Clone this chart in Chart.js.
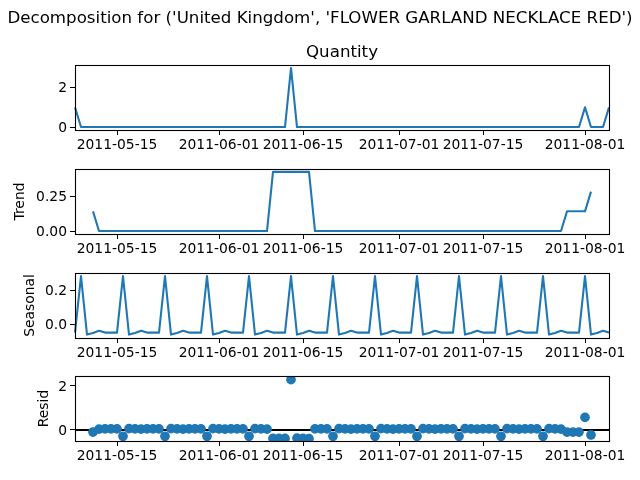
<!DOCTYPE html>
<html>
<head>
<meta charset="utf-8">
<script src="https://cdn.jsdelivr.net/npm/chart.js@4"></script>
<style>
    html, body { margin: 0; padding: 0; background: #fff; }
    canvas { position: absolute; left: 0; }
</style>
</head>
<body>
<canvas id="observed"></canvas>
<canvas id="trend"></canvas>
<canvas id="seasonal"></canvas>
<canvas id="resid"></canvas>
<script>
const dates = [
    "2011-05-08", "2011-05-09", "2011-05-10", "2011-05-11", "2011-05-12", "2011-05-13", "2011-05-14",
    "2011-05-15", "2011-05-16", "2011-05-17", "2011-05-18", "2011-05-19", "2011-05-20", "2011-05-21",
    "2011-05-22", "2011-05-23", "2011-05-24", "2011-05-25", "2011-05-26", "2011-05-27", "2011-05-28",
    "2011-05-29", "2011-05-30", "2011-05-31", "2011-06-01", "2011-06-02", "2011-06-03", "2011-06-04",
    "2011-06-05", "2011-06-06", "2011-06-07", "2011-06-08", "2011-06-09", "2011-06-10", "2011-06-11",
    "2011-06-12", "2011-06-13", "2011-06-14", "2011-06-15", "2011-06-16", "2011-06-17", "2011-06-18",
    "2011-06-19", "2011-06-20", "2011-06-21", "2011-06-22", "2011-06-23", "2011-06-24", "2011-06-25",
    "2011-06-26", "2011-06-27", "2011-06-28", "2011-06-29", "2011-06-30", "2011-07-01", "2011-07-02",
    "2011-07-03", "2011-07-04", "2011-07-05", "2011-07-06", "2011-07-07", "2011-07-08", "2011-07-09",
    "2011-07-10", "2011-07-11", "2011-07-12", "2011-07-13", "2011-07-14", "2011-07-15", "2011-07-16",
    "2011-07-17", "2011-07-18", "2011-07-19", "2011-07-20", "2011-07-21", "2011-07-22", "2011-07-23",
    "2011-07-24", "2011-07-25", "2011-07-26", "2011-07-27", "2011-07-28", "2011-07-29", "2011-07-30",
    "2011-07-31", "2011-08-01", "2011-08-02", "2011-08-03", "2011-08-04", "2011-08-05"
];

const dateTicks = ["2011-05-15", "2011-06-01", "2011-06-15", "2011-07-01", "2011-07-15", "2011-08-01"];

const quantity = [
    1, 0, 0, 0, 0, 0, 0,
    0, 0, 0, 0, 0, 0, 0,
    0, 0, 0, 0, 0, 0, 0,
    0, 0, 0, 0, 0, 0, 0,
    0, 0, 0, 0, 0, 0, 0,
    0, 3, 0, 0, 0, 0, 0,
    0, 0, 0, 0, 0, 0, 0,
    0, 0, 0, 0, 0, 0, 0,
    0, 0, 0, 0, 0, 0, 0,
    0, 0, 0, 0, 0, 0, 0,
    0, 0, 0, 0, 0, 0, 0,
    0, 0, 0, 0, 0, 0, 0,
    0, 1, 0, 0, 0, 1
];

const trend = [
    null, null, null, 0.143, 0, 0, 0,
    0, 0, 0, 0, 0, 0, 0,
    0, 0, 0, 0, 0, 0, 0,
    0, 0, 0, 0, 0, 0, 0,
    0, 0, 0, 0, 0, 0.429, 0.429,
    0.429, 0.429, 0.429, 0.429, 0.429, 0, 0,
    0, 0, 0, 0, 0, 0, 0,
    0, 0, 0, 0, 0, 0, 0,
    0, 0, 0, 0, 0, 0, 0,
    0, 0, 0, 0, 0, 0, 0,
    0, 0, 0, 0, 0, 0, 0,
    0, 0, 0, 0, 0, 0.143, 0.143,
    0.143, 0.143, 0.286, null, null, null
];

const seasonal = [
    -0.048, 0.287, -0.06, -0.05, -0.037, -0.048, -0.048,
    -0.048, 0.287, -0.06, -0.05, -0.037, -0.048, -0.048,
    -0.048, 0.287, -0.06, -0.05, -0.037, -0.048, -0.048,
    -0.048, 0.287, -0.06, -0.05, -0.037, -0.048, -0.048,
    -0.048, 0.287, -0.06, -0.05, -0.037, -0.048, -0.048,
    -0.048, 0.287, -0.06, -0.05, -0.037, -0.048, -0.048,
    -0.048, 0.287, -0.06, -0.05, -0.037, -0.048, -0.048,
    -0.048, 0.287, -0.06, -0.05, -0.037, -0.048, -0.048,
    -0.048, 0.287, -0.06, -0.05, -0.037, -0.048, -0.048,
    -0.048, 0.287, -0.06, -0.05, -0.037, -0.048, -0.048,
    -0.048, 0.287, -0.06, -0.05, -0.037, -0.048, -0.048,
    -0.048, 0.287, -0.06, -0.05, -0.037, -0.048, -0.048,
    -0.048, 0.287, -0.06, -0.05, -0.037, -0.048
];

const resid = [
    null, null, null, -0.093, 0.037, 0.048, 0.048,
    0.048, -0.287, 0.06, 0.05, 0.037, 0.048, 0.048,
    0.048, -0.287, 0.06, 0.05, 0.037, 0.048, 0.048,
    0.048, -0.287, 0.06, 0.05, 0.037, 0.048, 0.048,
    0.048, -0.287, 0.06, 0.05, 0.037, -0.381, -0.381,
    -0.381, 2.284, -0.369, -0.379, -0.392, 0.048, 0.048,
    0.048, -0.287, 0.06, 0.05, 0.037, 0.048, 0.048,
    0.048, -0.287, 0.06, 0.05, 0.037, 0.048, 0.048,
    0.048, -0.287, 0.06, 0.05, 0.037, 0.048, 0.048,
    0.048, -0.287, 0.06, 0.05, 0.037, 0.048, 0.048,
    0.048, -0.287, 0.06, 0.05, 0.037, 0.048, 0.048,
    0.048, -0.287, 0.06, 0.05, 0.037, -0.095, -0.095,
    -0.095, 0.57, -0.226, null, null, null
];

const zeroLine = [{ x: "2011-05-08", y: 0 }, { x: "2011-08-05", y: 0 }];

const quantityTicks = [0, 2];
const trendTicks = [0, 0.25];
const seasonalTicks = [0, 0.2];
const residTicks = [0, 2];

const BLUE = "#1f77b4";
const FONT = { family: "'DejaVu Sans'", size: 13.89 };
const TITLE_FONT = { family: "'DejaVu Sans'", size: 16.67, weight: "normal" };

Chart.defaults.color = "#000";
Chart.defaults.devicePixelRatio = 1;

// black box round each panel, like the four spines
const frame = {
    id: "frame",
    afterDatasetsDraw(chart) {
        let a = chart.chartArea;
        let ctx = chart.ctx;
        ctx.save();
        ctx.strokeStyle = "#000";
        ctx.lineWidth = 1.1;
        ctx.strokeRect(Math.round(a.left) + 0.5, Math.round(a.top) + 0.5, Math.round(a.width), Math.round(a.height));
        ctx.restore();
    }
};

// the figure title is wider than the space left by the layout padding, and chart.js squeezes it otherwise
const wideTitle = {
    id: "wideTitle",
    afterLayout(chart) {
        if (chart.titleBlock) {
            chart.titleBlock.left = 0;
            chart.titleBlock.right = chart.width;
            chart.titleBlock.width = chart.width;
        }
    }
};

function makePanel(id, p) {
    let canvas = document.getElementById(id);
    canvas.width = 640;
    canvas.height = p.bottom - p.canvasTop + 29;
    canvas.style.top = p.canvasTop + "px";

    let tickLines = { display: true, drawOnChartArea: false, drawTicks: true, tickLength: 5, tickColor: "#000", lineWidth: 1 };

    return new Chart(canvas, {
        type: "line",
        data: { labels: dates, datasets: p.datasets },
        plugins: [frame, wideTitle],
        options: {
            responsive: false,
            animation: false,
            layout: { padding: { left: p.padLeft, right: 31, top: p.padTop, bottom: 0 } },
            plugins: {
                legend: { display: false },
                tooltip: { enabled: false },
                title: p.title || { display: false },
                subtitle: p.subtitle || { display: false }
            },
            scales: {
                x: {
                    type: "category",
                    offset: false,
                    border: { display: false },
                    grid: tickLines,
                    ticks: { autoSkip: false, maxRotation: 0, minRotation: 0, padding: 2, font: FONT },
                    afterBuildTicks(scale) {
                        scale.ticks = dateTicks.map(d => ({ value: dates.indexOf(d) }));
                    },
                    afterFit(scale) { scale.height = 29; }
                },
                y: {
                    min: p.min,
                    max: p.max,
                    border: { display: false },
                    grid: tickLines,
                    title: { display: !!p.label, text: p.label, font: FONT, padding: 0 },
                    ticks: { padding: 3, labelOffset: 1, font: FONT, callback: v => v.toFixed(p.digits) },
                    afterBuildTicks(scale) {
                        scale.ticks = p.ticks.map(v => ({ value: v }));
                    },
                    afterFit(scale) { scale.width = 75 - p.padLeft; }
                }
            }
        }
    });
}

function lineSet(values) {
    return { data: values, borderColor: BLUE, borderWidth: 2.08, borderJoinStyle: "round", pointRadius: 0, tension: 0, spanGaps: false };
}

makePanel("observed", {
    canvasTop: 0, bottom: 130, padTop: 0, padLeft: 20, min: -0.15, max: 3.15, ticks: quantityTicks, digits: 0,
    title: {
        display: true,
        text: "Decomposition for ('United Kingdom', 'FLOWER GARLAND NECKLACE RED')",
        font: TITLE_FONT,
        padding: { top: 9, bottom: 14 }
    },
    subtitle: {
        display: true,
        text: "Quantity",
        font: TITLE_FONT,
        fullSize: false,
        padding: { top: 0, bottom: 2 }
    },
    datasets: [lineSet(quantity)]
});

makePanel("trend", {
    canvasTop: 157, bottom: 234, padTop: 12, padLeft: 12, min: -0.0214, max: 0.45, ticks: trendTicks, digits: 2,
    label: "Trend",
    datasets: [lineSet(trend)]
});

makePanel("seasonal", {
    canvasTop: 261, bottom: 338, padTop: 12, padLeft: 22, min: -0.08, max: 0.305, ticks: seasonalTicks, digits: 1,
    label: "Seasonal",
    datasets: [lineSet(seasonal)]
});

makePanel("resid", {
    canvasTop: 364, bottom: 441, padTop: 12, padLeft: 36, min: -0.5, max: 2.45, ticks: residTicks, digits: 0,
    label: "Resid",
    datasets: [
        { data: resid, showLine: false, backgroundColor: BLUE, borderColor: BLUE, pointRadius: 4.17, pointBorderWidth: 1.39, order: 1 },
        { data: zeroLine, borderColor: "#000", borderWidth: 2.08, pointRadius: 0, order: 2 }
    ]
});
</script>
</body>
</html>
